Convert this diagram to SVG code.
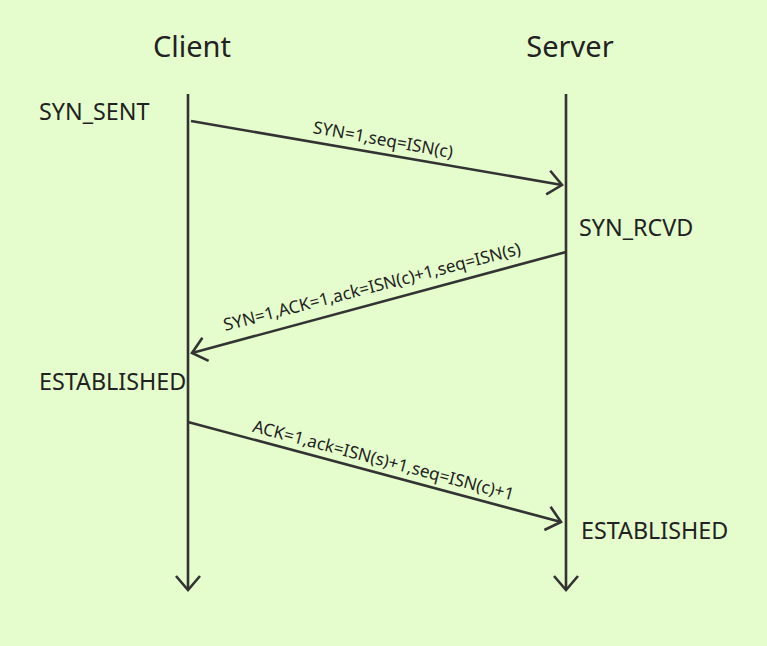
<svg xmlns="http://www.w3.org/2000/svg" width="767" height="646" viewBox="0 0 767 646">
<defs>
<style>
.ln{stroke:#333;stroke-width:2.6;fill:none}
.t{font-family:"Noto Sans","Open Sans",sans-serif;fill:#222}
.h{font-size:29px}
.s{font-size:23.3px}
.e{font-size:17.2px}
</style>
<marker id="ah" viewBox="0 0 24 30" refX="20" refY="15" markerWidth="24" markerHeight="30" markerUnits="userSpaceOnUse" orient="auto">
<path d="M6,3 L20,15 L6,27" fill="none" stroke="#333" stroke-width="2.6"/>
</marker>
</defs>
<rect width="767" height="646" fill="#e5fdcc"/>
<g id="client">
<text class="t h" x="192" y="57" text-anchor="middle">Client</text>
</g>
<g id="server">
<text class="t h" x="570" y="57" text-anchor="middle">Server</text>
</g>
<g id="states">
<text class="t s" x="39" y="120">SYN_SENT</text>
<text class="t s" x="579" y="236">SYN_RCVD</text>
<text class="t s" x="39" y="390">ESTABLISHED</text>
<text class="t s" x="581" y="539">ESTABLISHED</text>
</g>
<g id="connectors">
<line class="ln" x1="188" y1="94" x2="188" y2="590" marker-end="url(#ah)"/>
<line class="ln" x1="566" y1="94" x2="566" y2="590" marker-end="url(#ah)"/>
<line class="ln" x1="191" y1="121" x2="562" y2="185" marker-end="url(#ah)"/>
<line class="ln" x1="566" y1="252" x2="192" y2="353" marker-end="url(#ah)"/>
<line class="ln" x1="188" y1="422" x2="561" y2="522" marker-end="url(#ah)"/>
<text class="t e" transform="translate(382,145.5) rotate(10.2)" text-anchor="middle">SYN=1,seq=ISN(c)</text>
<text class="t e" transform="translate(373.5,292.5) rotate(-14.6)" text-anchor="middle">SYN=1,ACK=1,ack=ISN(c)+1,seq=ISN(s)</text>
<text class="t e" transform="translate(382,466) rotate(14.8)" text-anchor="middle">ACK=1,ack=ISN(s)+1,seq=ISN(c)+1</text>
</g>
</svg>
